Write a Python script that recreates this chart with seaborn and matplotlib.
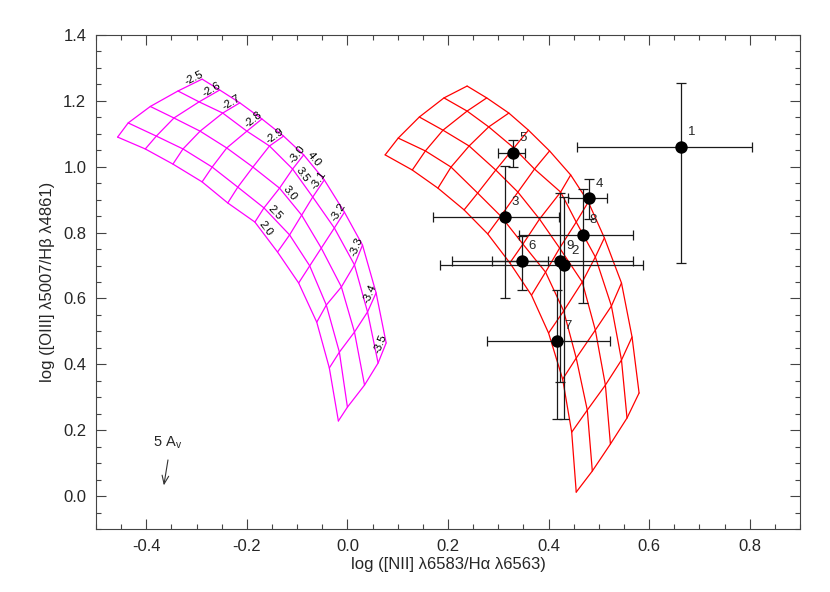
import math
import numpy as np
import pandas as pd
import matplotlib
matplotlib.use("Agg")
import matplotlib.pyplot as plt
from matplotlib.ticker import MultipleLocator, FormatStrFormatter
import seaborn as sns

# model grid 1 (magenta): 5 lines along the band (outer -> inner), 11 vertices each
MAG_X = [
    [-0.289, -0.254, -0.214, -0.170, -0.127, -0.087, -0.046, -0.006, 0.030, 0.057, 0.077],
    [-0.337, -0.295, -0.248, -0.200, -0.155, -0.109, -0.069, -0.026, 0.014, 0.040, 0.061],
    [-0.392, -0.345, -0.293, -0.240, -0.188, -0.135, -0.091, -0.052, -0.012, 0.014, 0.034],
    [-0.436, -0.380, -0.327, -0.269, -0.218, -0.166, -0.115, -0.075, -0.042, -0.016, 0.000],
    [-0.457, -0.402, -0.347, -0.289, -0.238, -0.184, -0.139, -0.097, -0.061, -0.036, -0.018],
]
MAG_Y = [
    [1.266, 1.233, 1.194, 1.145, 1.093, 1.036, 0.960, 0.862, 0.762, 0.617, 0.465],
    [1.230, 1.197, 1.163, 1.108, 1.063, 0.993, 0.908, 0.814, 0.702, 0.559, 0.404],
    [1.183, 1.148, 1.108, 1.057, 0.999, 0.935, 0.853, 0.753, 0.635, 0.498, 0.337],
    [1.133, 1.093, 1.054, 0.999, 0.938, 0.875, 0.793, 0.699, 0.580, 0.437, 0.270],
    [1.090, 1.054, 1.008, 0.954, 0.890, 0.832, 0.741, 0.647, 0.528, 0.389, 0.228],
]
MAG_ALONG_LABELS = ["4.0", "3.5", "3.0", "2.5", "2.0"]
MAG_CROSS_LABELS = ["-2.5", "-2.6", "-2.7", "-2.8", "-2.9", "-3.0",
                    "-3.1", "-3.2", "-3.3", "-3.4", "-3.5"]

# model grid 2 (red), same layout
RED_X = [
    [0.238, 0.277, 0.321, 0.360, 0.402, 0.444, 0.479, 0.511, 0.545, 0.566, 0.580],
    [0.192, 0.238, 0.281, 0.331, 0.372, 0.424, 0.455, 0.493, 0.525, 0.545, 0.556],
    [0.143, 0.190, 0.242, 0.295, 0.339, 0.382, 0.422, 0.467, 0.493, 0.513, 0.523],
    [0.101, 0.155, 0.206, 0.259, 0.305, 0.349, 0.394, 0.430, 0.455, 0.477, 0.487],
    [0.075, 0.129, 0.180, 0.232, 0.279, 0.323, 0.366, 0.400, 0.428, 0.446, 0.455],
]
RED_Y = [
    [1.245, 1.209, 1.163, 1.111, 1.048, 0.975, 0.893, 0.784, 0.647, 0.483, 0.313],
    [1.209, 1.169, 1.121, 1.057, 0.993, 0.923, 0.832, 0.726, 0.577, 0.413, 0.237],
    [1.151, 1.111, 1.063, 0.990, 0.923, 0.841, 0.753, 0.650, 0.504, 0.337, 0.158],
    [1.087, 1.048, 0.999, 0.920, 0.850, 0.765, 0.680, 0.562, 0.419, 0.261, 0.076],
    [1.036, 0.990, 0.935, 0.869, 0.796, 0.708, 0.610, 0.495, 0.355, 0.194, 0.012],
]

# observed regions
OBJ_LABELS = ["1", "2", "3", "4", "5", "6", "7", "8", "9"]
OBJ_X = [0.663, 0.431, 0.313, 0.480, 0.329, 0.347, 0.417, 0.468, 0.423]
OBJ_Y = [1.060, 0.701, 0.848, 0.904, 1.043, 0.714, 0.472, 0.794, 0.714]
OBJ_XLO = [0.457, 0.184, 0.171, 0.438, 0.300, 0.288, 0.278, 0.341, 0.207]
OBJ_XHI = [0.804, 0.587, 0.420, 0.517, 0.354, 0.399, 0.523, 0.567, 0.567]
OBJ_YLO = [0.708, 0.234, 0.600, 0.841, 0.998, 0.626, 0.234, 0.587, 0.347]
OBJ_YHI = [1.255, 0.908, 1.003, 0.962, 1.081, 0.790, 0.626, 0.932, 0.919]

# extinction vector
AV_START = (-0.356, 0.118)
AV_END = (-0.366, 0.024)

sns.set_theme(style="ticks")
plt.rcParams["font.family"] = ["Liberation Sans", "DejaVu Sans"]
plt.rcParams["mathtext.fontset"] = "custom"
plt.rcParams["mathtext.rm"] = "Liberation Sans"
plt.rcParams["axes.unicode_minus"] = True


def grid_frame(gx, gy):
    rows = []
    for i, (lx, ly) in enumerate(zip(gx, gy)):
        for j, (xv, yv) in enumerate(zip(lx, ly)):
            rows.append({"along": i, "cross": j, "x": xv, "y": yv})
    return pd.DataFrame(rows)


fig = plt.figure(figsize=(8.3, 5.92), dpi=100)
ax = fig.add_axes([96 / 830, 1 - 529 / 592, 704 / 830, 494 / 592])
ax.set_xlim(-0.5, 0.9)
ax.set_ylim(-0.1, 1.4)

for gx, gy, col in [(MAG_X, MAG_Y, "#ff00ff"), (RED_X, RED_Y, "#ff0000")]:
    g = grid_frame(gx, gy)
    sns.lineplot(data=g.sort_values(["along", "cross"]), x="x", y="y", units="along",
                 estimator=None, sort=False, color=col, lw=0.9, ax=ax, legend=False)
    sns.lineplot(data=g.sort_values(["cross", "along"]), x="x", y="y", units="cross",
                 estimator=None, sort=False, color=col, lw=0.9, ax=ax, legend=False)


def seg_angle(p0, p1):
    a, b = ax.transData.transform([p0, p1])
    return math.degrees(math.atan2(b[1] - a[1], b[0] - a[0]))


# labels on the magenta grid
for j, lab in enumerate(MAG_CROSS_LABELS):
    p1 = (MAG_X[0][j], MAG_Y[0][j])
    p0 = (MAG_X[1][j], MAG_Y[1][j])
    ang = seg_angle(p0, p1)
    shift = 2.0 if j < 5 else 4.5
    off = (shift * math.cos(math.radians(ang)), shift * math.sin(math.radians(ang)))
    ax.annotate(lab, p1, xytext=off, textcoords="offset points",
                rotation=ang, rotation_mode="anchor",
                ha="right", va="bottom", fontsize=8.2, color="black")
for i, lab in enumerate(MAG_ALONG_LABELS):
    p0 = (MAG_X[i][5], MAG_Y[i][5])
    p1 = (MAG_X[i][6], MAG_Y[i][6])
    mx, my = p0[0] + 0.3 * (p1[0] - p0[0]), p0[1] + 0.3 * (p1[1] - p0[1])
    ax.text(mx, my, lab, rotation=seg_angle(p0, p1), rotation_mode="anchor",
            ha="center", va="bottom", fontsize=8.2, color="black")

# data points with asymmetric errors
ox = np.array(OBJ_X)
oy = np.array(OBJ_Y)
xerr = [ox - np.array(OBJ_XLO), np.array(OBJ_XHI) - ox]
yerr = [oy - np.array(OBJ_YLO), np.array(OBJ_YHI) - oy]
ax.errorbar(ox, oy, xerr=xerr, yerr=yerr, fmt="none", ecolor="#1a1a1a",
            elinewidth=0.9, capsize=3.5, capthick=0.9, zorder=3)
sns.scatterplot(x=ox, y=oy, color="black", s=80, edgecolor="black", linewidth=0,
                ax=ax, zorder=4, legend=False)
for lab, xv, yv in zip(OBJ_LABELS, OBJ_X, OBJ_Y):
    ax.annotate(lab, (xv, yv), xytext=(7.5, 10.5), textcoords="offset points",
                ha="center", va="center", fontsize=9.5)

# reddening arrow
ax.annotate("", xy=AV_END, xytext=AV_START,
            arrowprops=dict(arrowstyle="->,head_length=0.5,head_width=0.2",
                            color="#333333", lw=0.8))
ax.text(AV_START[0] - 0.002, AV_START[1] + 0.018, "5 A$_{\\mathrm{v}}$",
        ha="center", va="bottom", fontsize=10.5)

ax.xaxis.set_major_locator(MultipleLocator(0.2))
ax.xaxis.set_minor_locator(MultipleLocator(0.05))
ax.yaxis.set_major_locator(MultipleLocator(0.2))
ax.yaxis.set_minor_locator(MultipleLocator(0.05))
ax.xaxis.set_major_formatter(FormatStrFormatter("%.1f"))
ax.yaxis.set_major_formatter(FormatStrFormatter("%.1f"))
ax.tick_params(which="both", direction="in", top=True, right=True,
               color="#444444", width=0.8, labelsize=12, pad=7)
ax.tick_params(which="major", length=7)
ax.tick_params(which="minor", length=3.5)
for sp in ax.spines.values():
    sp.set_color("#444444")
    sp.set_linewidth(0.8)

ax.set_xlabel("log ([NII] λ6583/Hα λ6563)", fontsize=12, labelpad=2)
ax.set_ylabel("log ([OIII] λ5007/Hβ λ4861)", fontsize=12, labelpad=6)

fig.savefig("out.png", dpi=100)
